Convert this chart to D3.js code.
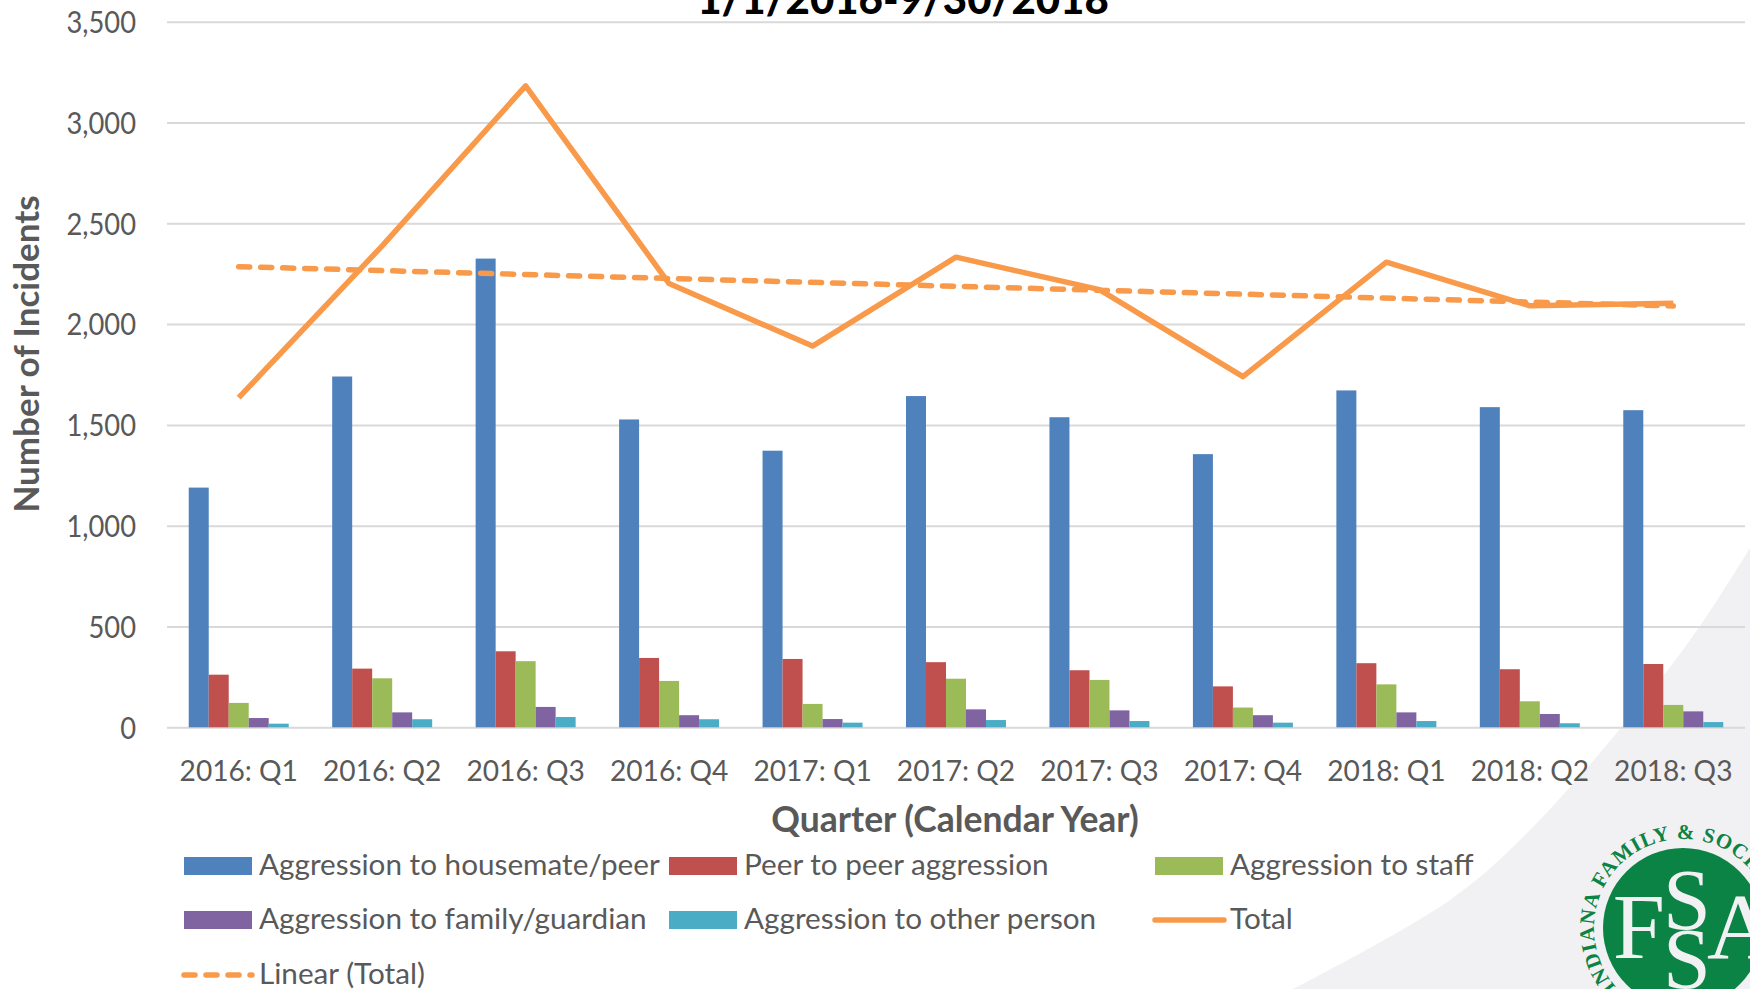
<!DOCTYPE html>
<html>
<head>
<meta charset="utf-8">
<script src="https://cdn.jsdelivr.net/npm/d3@7/dist/d3.min.js"></script>
<style>
html,body{margin:0;padding:0;background:#fff;overflow:hidden}
svg{display:block}
text{font-family:Lato,"Open Sans",sans-serif}
</style>
</head>
<body>
<svg id="chart" width="1750" height="989"></svg>
<script>
const categories = ["2016: Q1","2016: Q2","2016: Q3","2016: Q4","2017: Q1","2017: Q2","2017: Q3","2017: Q4","2018: Q1","2018: Q2","2018: Q3"];
const housemate = [1189,1740,2325,1527,1372,1643,1538,1355,1671,1588,1573];
const peer      = [261,291,377,344,339,323,283,203,318,288,314];
const staff     = [121,243,328,230,116,241,235,98,213,129,111];
const family    = [46,74,101,60,41,89,84,60,74,66,79];
const other     = [18,40,51,40,23,36,31,23,31,20,26];
const total     = [1635,2388,3182,2201,1891,2332,2171,1739,2307,2091,2103];
const trendEnds = [2285,2090];
const yTicks = [0,500,1000,1500,2000,2500,3000,3500];
const seriesNames = ["Aggression to housemate/peer","Peer to peer aggression","Aggression to staff","Aggression to family/guardian","Aggression to other person"];
const seriesColors = ["#4F81BD","#C0504D","#9BBB59","#8064A2","#4BACC6"];
const lineColor = "#F9994A";
const titleText = "1/1/2016-9/30/2018";
const yTitle = "Number of Incidents";
const xTitle = "Quarter (Calendar Year)";
const logoRing = "INDIANA FAMILY & SOCIAL SERVICES";
const swooshOutline = [[1293,989],[1450,900],[1533,827],[1683,650],[1750,548]];

const svg = d3.select("#chart");
const textCol = "#595959";
const squeeze = (sel,k) => sel.each(function(){
  d3.select(this).attr("textLength",this.getComputedTextLength()*k).attr("lengthAdjust","spacingAndGlyphs");
});

// background swoosh and logo
const swoosh = d3.line().curve(d3.curveCatmullRom)(swooshOutline);
svg.append("path").attr("d", swoosh + "L1750,989Z").attr("fill","#F1F1F3");

const logoCx = 1683, logoCy = 928, logoR = 80, ringR = 89;
const logo = svg.append("g");
logo.append("circle").attr("cx",logoCx).attr("cy",logoCy).attr("r",logoR).attr("fill","#0B8344");
svg.append("defs").append("path").attr("id","ring")
  .attr("d",`M${logoCx-ringR*Math.cos(0.72)},${logoCy+ringR*Math.sin(0.72)} A${ringR},${ringR} 0 1 1 ${logoCx+ringR},${logoCy}`);
logo.append("text").attr("font-size",21).attr("font-weight",700).attr("fill","#0B8344")
  .style("font-family","'Liberation Serif',serif").attr("letter-spacing",1)
  .append("textPath").attr("href","#ring").text(logoRing);
const logoLetters = [["F",1639,958,94],["S",1687,929,86],["S",1687,988,86],["A",1741,958,94]];
logoLetters.forEach(([t,x,y,s])=>{
  logo.append("text").attr("x",x).attr("y",y).attr("font-size",s).attr("text-anchor","middle")
    .attr("fill","#F1F1F3").style("font-family","'Liberation Serif',serif").text(t);
});

// scales
const x0 = d3.scaleBand().domain(categories).range([167,1745]).paddingInner(0.303).paddingOuter(0.1515);
const x1 = d3.scaleBand().domain(d3.range(5)).range([0,x0.bandwidth()]);
const y = d3.scaleLinear().domain([0,3500]).range([727.3,21.7]);
const xMid = c => x0(c)+x0.bandwidth()/2;

// y axis + grid
const yAxis = d3.axisLeft(y).tickValues(yTicks).tickSize(-1578).tickPadding(31).tickFormat(d3.format(","));
const gy = svg.append("g").attr("transform","translate(167,0)").call(yAxis);
gy.select(".domain").remove();
gy.selectAll("line").attr("stroke","#D9D9D9").attr("stroke-width",2);
gy.selectAll("text").attr("fill",textCol).attr("font-size",30).attr("dy","0.36em").call(squeeze,0.91);

// title
svg.append("text").attr("x",903).attr("y",14).attr("text-anchor","middle")
  .attr("font-size",42).attr("font-weight",900).attr("fill","#000").text(titleText);

// bars
[housemate,peer,staff,family,other].forEach((vals,i)=>{
  svg.append("g").selectAll("rect").data(vals).join("rect")
    .attr("x",(d,k)=>x0(categories[k])+x1(i))
    .attr("width",x1.bandwidth())
    .attr("y",d=>y(d))
    .attr("height",d=>y(0)-y(d))
    .attr("fill",seriesColors[i]);
});

// x axis labels
const xAxis = d3.axisBottom(x0).tickSize(0).tickPadding(33);
const gx = svg.append("g").attr("transform","translate(0,727.3)").call(xAxis);
gx.select(".domain").remove();
gx.selectAll("text").attr("fill",textCol).attr("font-size",29).call(squeeze,0.97);

// total and trend
const line = d3.line().x(d=>xMid(d.c)).y(d=>y(d.v));
svg.append("path").datum(categories.map((c,i)=>({c,v:total[i]})))
  .attr("d",line).attr("fill","none").attr("stroke",lineColor).attr("stroke-width",5.5).attr("stroke-linejoin","round");
svg.append("path").datum([{c:categories[0],v:trendEnds[0]},{c:categories[10],v:trendEnds[1]}])
  .attr("d",line).attr("fill","none").attr("stroke",lineColor).attr("stroke-width",5.5)
  .attr("stroke-linecap","round").attr("stroke-dasharray","11 11");

// axis titles
svg.append("text").attr("transform","translate(39,354) rotate(-90)").attr("text-anchor","middle")
  .attr("font-size",35).attr("font-weight",700).attr("fill",textCol).text(yTitle);
svg.append("text").attr("x",955).attr("y",832).attr("text-anchor","middle")
  .attr("font-size",35.5).attr("font-weight",700).attr("fill",textCol).text(xTitle);

// legend
const legendPos = [[184,857],[669,857],[1155,857],[184,911],[669,911]];
seriesNames.forEach((n,i)=>{
  const [lx,ly] = legendPos[i];
  svg.append("rect").attr("x",lx).attr("y",ly).attr("width",68).attr("height",18).attr("fill",seriesColors[i]);
  svg.append("text").attr("x",lx+75).attr("y",ly+18).attr("font-size",29.7).attr("fill",textCol).text(n);
});
svg.append("line").attr("x1",1155).attr("x2",1224).attr("y1",920).attr("y2",920)
  .attr("stroke",lineColor).attr("stroke-width",5.5).attr("stroke-linecap","round");
svg.append("text").attr("x",1230).attr("y",929).attr("font-size",29.7).attr("fill",textCol).text("Total");
svg.append("line").attr("x1",184).attr("x2",252).attr("y1",975).attr("y2",975)
  .attr("stroke",lineColor).attr("stroke-width",5.5).attr("stroke-linecap","round").attr("stroke-dasharray","11 11");
svg.append("text").attr("x",259).attr("y",984).attr("font-size",29.7).attr("fill",textCol).text("Linear (Total)");
</script>
</body>
</html>
